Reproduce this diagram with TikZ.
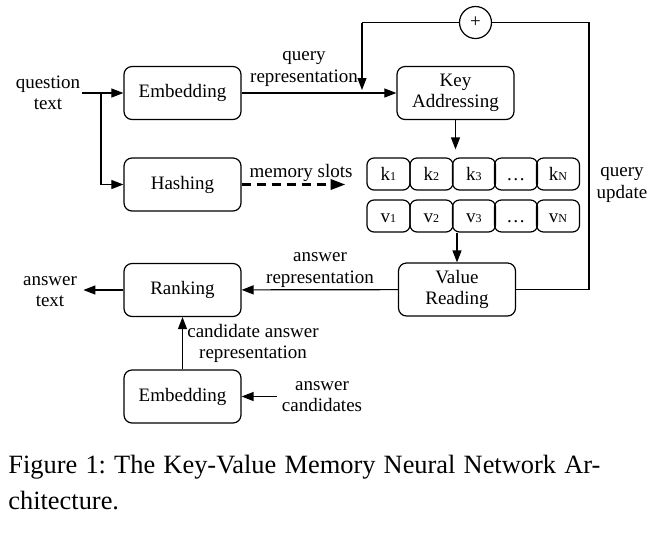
\documentclass[tikz,border=0pt]{standalone}
\usepackage{fontspec}
\setmainfont{Liberation Serif}
\usetikzlibrary{arrows.meta}

\tikzset{
  blk/.style={draw, rounded corners=4pt, line width=0.6pt, minimum width=58.5pt, minimum height=26.5pt, align=center, inner sep=1pt},
  slot/.style={draw, rounded corners=3.5pt, line width=0.6pt, minimum width=21.5pt, minimum height=16pt, inner sep=0pt, text height=6.5pt, text depth=0pt},
  lbl/.style={align=center, inner sep=0pt},
  arr/.style={line width=0.6pt, -{Triangle[length=6pt,width=4.5pt]}},
  dasharr/.style={line width=1.6pt, dash pattern=on 4.5pt off 3pt, -{Triangle[length=7.5pt,width=5pt]}},
}
\newcommand{\sub}[1]{{\fontsize{6}{6}\selectfont #1}}

\begin{document}
\frenchspacing
\begin{tikzpicture}[x=0.5pt,y=-0.5pt,font=\fontsize{9.5}{10.6}\selectfont]
\useasboundingbox (0,0) rectangle (650,538);
% left column
\node[lbl] (qtext) at (48,93) {question\\text};
\node[blk] (emb) at (182.5,93) {Embedding};
\node[blk] (hash) at (182.5,184.5) {Hashing};
\node[blk] (rank) at (182.5,290) {Ranking};
\node[blk] (emb2) at (182.5,396.5) {Embedding};
\node[lbl] (atext) at (50,292) {answer\\text};
\node[lbl] (acand) at (322,397) {answer\\candidates};
% memory side
\node[blk] (keyaddr) at (455.5,93) {Key\\Addressing};
\node[blk] (vread) at (457,289.5) {Value\\Reading};
\node[draw, circle, line width=0.6pt, minimum size=16pt, inner sep=0pt] (plus) at (475.5,22.5) {+};
\node[slot] (k1) at (388.5,174) {k\sub{1}};
\node[slot] (k2) at (431.5,174) {k\sub{2}};
\node[slot] (k3) at (474,174) {k\sub{3}};
\node[slot] (k4) at (516,174) {\dots};
\node[slot] (kN) at (558,174) {k\sub{N}};
\node[slot] (v1) at (388.5,216) {v\sub{1}};
\node[slot] (v2) at (431.5,216) {v\sub{2}};
\node[slot] (v3) at (474,216) {v\sub{3}};
\node[slot] (v4) at (516,216) {\dots};
\node[slot] (vN) at (558,216) {v\sub{N}};
% edge labels
\node[lbl] (qrep) at (304,69) {query\\representation};
\node[lbl] (mslots) at (301,173) {memory slots};
\node[lbl] (qupd) at (622,185) {query\\update};
\node[lbl] (arep) at (320,270) {answer\\representation};
\node[lbl] (crep) at (253,343.5) {candidate answer\\representation};
\coordinate (split) at (101,93);
\coordinate (loopl) at (362,22.5);
\coordinate (loopr) at (589,22.5);
% connectors
\draw[arr] (82,93) -- (emb.west);
\draw[arr] (split) |- (hash.west);
\draw[arr] (emb) -- (keyaddr);
\draw[line width=0.6pt] (plus.west) -- (loopl);
\draw[arr] (loopl) -- (362,90);
\draw[line width=0.6pt] (plus.east) -- (loopr) |- (vread.east);
\draw[arr, shorten >=4pt] (keyaddr) -- (keyaddr |- k2.north);
\draw[arr] (vread |- v2.south) -- (vread);
\draw[arr] (vread) -- (rank);
\draw[arr] (rank.west) -- ++(-40,0);
\draw[arr] (emb2) -- (rank);
\draw[arr] (277,396.5) -- (emb2.east);
\draw[dasharr] (hash.east) -- ++(104,0);
% caption
\node[anchor=north west, inner sep=0pt, font=\fontsize{13.2}{17.5}\selectfont] (cap1) at (8,455) {\makebox[296pt][s]{Figure 1: The Key-Value Memory Neural Network Ar-}};
\node[anchor=north west, inner sep=0pt, font=\fontsize{13.2}{17.5}\selectfont] (cap2) at (8,491) {chitecture.};
\end{tikzpicture}
\end{document}
